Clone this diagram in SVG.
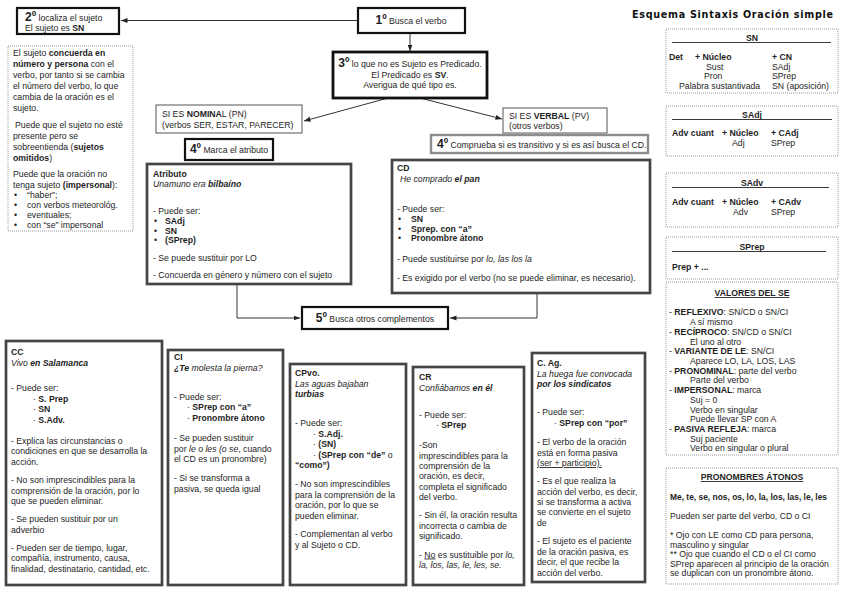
<svg xmlns="http://www.w3.org/2000/svg" width="848" height="600" viewBox="0 0 848 600">
<style>
text{font-family:"Liberation Sans",Arial,sans-serif;font-size:8.7px;fill:#1e1e1e}
.b{font-weight:bold}
.i{font-style:italic}
.bi{font-weight:bold;font-style:italic}
.n{font-size:12px;font-weight:bold}
.u{text-decoration:underline}
.m{text-anchor:middle}
.title{font-family:"DejaVu Sans","Liberation Sans",sans-serif;font-size:9.6px;font-weight:bold;fill:#111}
.thick{fill:#fff;stroke:#111;stroke-width:2.2}
.thin{fill:#fff;stroke:#555;stroke-width:1}
.gray{fill:#fff;stroke:#8c8c8c;stroke-width:2.4}
.card{fill:#fff;stroke:#454545;stroke-width:2.7}
.dot{fill:#fff;stroke:#9a9a9a;stroke-width:1;stroke-dasharray:1 1}
.rule{stroke:#222;stroke-width:0.9}
.con{fill:none;stroke:#333;stroke-width:1}
</style>
<defs>
<marker id="ah" markerUnits="userSpaceOnUse" markerWidth="7" markerHeight="6" refX="6.5" refY="3" orient="auto">
<path d="M0,0.5 L6.5,3 L0,5.5 z" fill="#222"/>
</marker>
</defs>
<rect width="848" height="600" fill="#fff"/>

<g id="connectors">
<path class="con" d="M358,20.5 H121" marker-end="url(#ah)"/>
<path class="con" d="M410,33 V51" marker-end="url(#ah)"/>
<path class="con" d="M388,98 L304,121" marker-end="url(#ah)"/>
<path class="con" d="M420,98 L502,119" marker-end="url(#ah)"/>
<path class="con" d="M237,284 V318 H300" marker-end="url(#ah)"/>
<path class="con" d="M537,293 V318 H450" marker-end="url(#ah)"/>
</g>

<text id="title" class="title" x="632" y="18" textLength="201" lengthAdjust="spacing">Esquema Sintaxis Oración simple</text>

<g id="paso2">
<rect class="thick" x="17" y="8" width="102" height="26"/>
<text x="25" y="21"><tspan class="n">2º</tspan> localiza el sujeto</text>
<text x="25" y="31">El sujeto es <tspan class="b">SN</tspan></text>
</g>

<g id="sujeto">
<rect class="dot" x="8" y="46" width="125" height="185"/>
<text x="13" y="56">El sujeto <tspan class="b">concuerda en</tspan></text>
<text x="13" y="67"><tspan class="b">número y persona</tspan> con el</text>
<text x="13" y="78">verbo, por tanto si se cambia</text>
<text x="13" y="89">el número del verbo, lo que</text>
<text x="13" y="100">cambia de la oración es el</text>
<text x="13" y="110.5">sujeto.</text>
<text x="15" y="128">Puede que el sujeto no esté</text>
<text x="13" y="139">presente pero se</text>
<text x="13" y="150">sobreentienda (<tspan class="b">sujetos</tspan></text>
<text x="13" y="160.5"><tspan class="b">omitidos</tspan>)</text>
<text x="13" y="177">Puede que la oración no</text>
<text x="13" y="188">tenga sujeto <tspan class="b">(impersonal</tspan>):</text>
<text x="14" y="198">•</text><text x="27" y="198">“haber”;</text>
<text x="14" y="208">•</text><text x="27" y="208">con verbos meteorológ.</text>
<text x="14" y="218">•</text><text x="27" y="218">eventuales;</text>
<text x="14" y="228">•</text><text x="27" y="228">con “se” impersonal</text>
</g>

<g id="paso1">
<rect class="thick" x="358" y="8" width="107" height="25"/>
<text class="m" x="411" y="24"><tspan class="n">1º</tspan> Busca el verbo</text>
</g>

<g id="paso3">
<rect class="thick" x="333" y="52" width="154" height="46" style="stroke-width:2.8"/>
<text class="m" x="410" y="67"><tspan class="n">3º</tspan> lo que no es Sujeto es Predicado.</text>
<text class="m" x="410" y="78">El Predicado es <tspan class="b">SV</tspan>.</text>
<text class="m" x="410" y="88">Averigua de qué tipo es.</text>
</g>

<g id="nominal">
<rect class="thin" x="156" y="105" width="146" height="28"/>
<text x="162" y="117">SI ES <tspan class="b">NOMINA</tspan>L (PN)</text>
<text x="162" y="128">(verbos SER, ESTAR, PARECER)</text>
</g>

<g id="verbal">
<rect class="thin" x="503" y="108" width="104" height="25"/>
<text x="509" y="118.5">SI ES <tspan class="b">VERBAL</tspan> (PV)</text>
<text x="509" y="129">(otros verbos)</text>
</g>

<g id="paso4a">
<rect class="thick" x="185" y="139" width="88" height="21"/>
<text class="m" x="229" y="153"><tspan class="n">4º</tspan> Marca el atributo</text>
</g>

<g id="paso4b">
<rect class="gray" x="431" y="135" width="217" height="18"/>
<text x="437" y="148"><tspan class="n">4º</tspan> Comprueba si es transitivo y si es así busca el CD.</text>
</g>

<g id="atributo">
<rect class="card" x="147" y="164" width="204" height="120"/>
<text class="b" x="153" y="177">Atributo</text>
<text x="153" y="187"><tspan class="i">Unamuno era </tspan><tspan class="bi">bilbaíno</tspan></text>
<text x="153" y="214">- Puede ser:</text>
<text x="154" y="224">•</text><text class="b" x="165" y="224">SAdj</text>
<text x="154" y="233.5">•</text><text class="b" x="165" y="233.5">SN</text>
<text x="154" y="243">•</text><text class="b" x="165" y="243">(SPrep)</text>
<text x="153" y="261">- Se puede sustituir por LO</text>
<text x="153" y="278">- Concuerda en género y número con el sujeto</text>
</g>

<g id="cd">
<rect class="card" x="392" y="160" width="258" height="133"/>
<text class="b" x="397" y="171">CD</text>
<text x="400" y="181.5"><tspan class="i">He comprado </tspan><tspan class="bi">el pan</tspan></text>
<text x="397" y="212">- Puede ser:</text>
<text x="398" y="222">•</text><text class="b" x="411" y="222">SN</text>
<text x="398" y="231.5">•</text><text class="b" x="411" y="231.5">Sprep. con “a”</text>
<text x="398" y="241">•</text><text class="b" x="411" y="241">Pronombre átono</text>
<text x="397" y="262">- Puede sustituirse por <tspan class="i">lo, las los la</tspan></text>
<text x="397" y="280.5">- Es exigido por el verbo (no se puede eliminar, es necesario).</text>
</g>

<g id="paso5">
<rect class="thick" x="302" y="307" width="146" height="22"/>
<text class="m" x="375" y="322"><tspan class="n">5º</tspan> Busca otros complementos</text>
</g>

<g id="cc">
<rect class="card" x="6" y="341" width="156" height="244"/>
<text class="b" x="11" y="355">CC</text>
<text x="11" y="366"><tspan class="i">Vivo </tspan><tspan class="bi">en Salamanca</tspan></text>
<text x="11" y="391">-  Puede ser:</text>
<text x="33" y="401.5">· <tspan class="b">S. Prep</tspan></text>
<text x="33" y="412">· <tspan class="b">SN</tspan></text>
<text x="33" y="422.5">· <tspan class="b">S.Adv.</tspan></text>
<text x="11" y="444">- Explica las circunstancias o</text>
<text x="11" y="454">condiciones en que se desarrolla la</text>
<text x="11" y="464.5">acción.</text>
<text x="11" y="483">- No son imprescindibles para la</text>
<text x="11" y="493.5">comprensión de la oración, por lo</text>
<text x="11" y="504">que se pueden eliminar.</text>
<text x="11" y="522">-  Se pueden sustituir por un</text>
<text x="11" y="532.5">adverbio</text>
<text x="11" y="550.5">- Pueden ser de tiempo, lugar,</text>
<text x="11" y="561">compañía, instrumento, causa,</text>
<text x="11" y="571.5">finalidad, destinatario, cantidad, etc.</text>
</g>

<g id="ci">
<rect class="card" x="168" y="350" width="115" height="235"/>
<text class="b" x="174" y="360">CI</text>
<text x="174" y="371"><tspan class="bi">¿Te</tspan><tspan class="i"> molesta la pierna?</tspan></text>
<text x="174" y="400">- Puede ser:</text>
<text x="187" y="410">· <tspan class="b">SPrep con “a”</tspan></text>
<text x="187" y="420.5">· <tspan class="b">Pronombre átono</tspan></text>
<text x="174" y="441">- Se pueden sustituir</text>
<text x="174" y="451.5">por <tspan class="i">le</tspan> o <tspan class="i">les (o se</tspan>, cuando</text>
<text x="174" y="462">el CD es un pronombre)</text>
<text x="174" y="481">- Si se transforma a</text>
<text x="174" y="491.5">pasiva, se queda igual</text>
</g>

<g id="cpvo">
<rect class="card" x="290" y="364" width="116" height="221"/>
<text class="b" x="295" y="376">CPvo.</text>
<text class="i" x="295" y="386.5">Las aguas bajaban</text>
<text class="bi" x="295" y="397">turbias</text>
<text x="295" y="426">- Puede ser:</text>
<text x="313" y="436.5">· <tspan class="b">S.Adj.</tspan></text>
<text x="313" y="447">· <tspan class="b">(SN)</tspan></text>
<text x="313" y="457.5">· <tspan class="b">(SPrep con “de”</tspan> o</text>
<text class="b" x="295" y="468">“como”)</text>
<text x="295" y="487">- No son imprescindibles</text>
<text x="295" y="497.5">para la comprensión de la</text>
<text x="295" y="508">oración, por lo que se</text>
<text x="295" y="518.5">pueden eliminar.</text>
<text x="295" y="537">- Complementan al verbo</text>
<text x="295" y="547.5">y al Sujeto o CD.</text>
</g>

<g id="cr">
<rect class="card" x="413" y="367" width="111" height="218"/>
<text class="b" x="419" y="380">CR</text>
<text x="419" y="390.5"><tspan class="i">Confiábamos </tspan><tspan class="bi">en él</tspan></text>
<text x="419" y="418">- Puede ser:</text>
<text x="436" y="428">· <tspan class="b">SPrep</tspan></text>
<text x="419" y="448">-Son</text>
<text x="419" y="458.5">imprescindibles para la</text>
<text x="419" y="469">comprensión de la</text>
<text x="419" y="479">oración, es decir,</text>
<text x="419" y="489.5">completa el significado</text>
<text x="419" y="500">del verbo.</text>
<text x="419" y="518">- Sin él, la oración resulta</text>
<text x="419" y="528.5">incorrecta o cambia de</text>
<text x="419" y="539">significado.</text>
<text x="419" y="557.5">- <tspan class="u">No</tspan> es sustituible por <tspan class="i">lo,</tspan></text>
<text class="i" x="419" y="568">la, los, las, le, les, se.</text>
</g>

<g id="cag">
<rect class="card" x="532" y="353" width="113" height="229"/>
<text class="b" x="537" y="366">C. Ag.</text>
<text class="i" x="537" y="376.5">La huega fue convocada</text>
<text class="bi" x="537" y="387">por los sindicatos</text>
<text x="537" y="415">- Puede ser:</text>
<text x="554" y="425.5">· <tspan class="b">SPrep con “por”</tspan></text>
<text x="537" y="445">- El verbo de la oración</text>
<text x="537" y="455.5">está en forma pasiva</text>
<text class="u" x="537" y="466">(ser + participio).</text>
<text x="537" y="484">- Es el que realiza la</text>
<text x="537" y="494.5">acción del verbo, es decir,</text>
<text x="537" y="505">si se transforma a activa</text>
<text x="537" y="515">se convierte en el sujeto</text>
<text x="537" y="525.5">de</text>
<text x="537" y="544">- El sujeto es el paciente</text>
<text x="537" y="554.5">de la oración pasiva, es</text>
<text x="537" y="565">decir, el que recibe la</text>
<text x="537" y="575.5">acción del verbo.</text>
</g>

<g id="sn">
<rect class="dot" x="666" y="29" width="172" height="64"/>
<text class="b m" x="752" y="41">SN</text>
<line class="rule" x1="672" y1="42.5" x2="831" y2="42.5"/>
<text class="b" x="669" y="60">Det</text>
<text class="b" x="695" y="60">+ Núcleo</text>
<text class="b" x="772" y="60">+ CN</text>
<text x="706" y="69.5">Sust</text><text x="772" y="69.5">SAdj</text>
<text x="704" y="79">Pron</text><text x="772" y="79">SPrep</text>
<text x="679" y="89">Palabra sustantivada</text><text x="772" y="89">SN (aposición)</text>
</g>

<g id="sadj">
<rect class="dot" x="666" y="106" width="172" height="50"/>
<text class="b m" x="752" y="118">SAdj</text>
<line class="rule" x1="672" y1="119.5" x2="832" y2="119.5"/>
<text class="b" x="672" y="136">Adv cuant</text>
<text class="b" x="722" y="136">+ Núcleo</text>
<text class="b" x="771" y="136">+ CAdj</text>
<text x="732" y="146">Adj</text><text x="771" y="146">SPrep</text>
</g>

<g id="sadv">
<rect class="dot" x="666" y="173" width="172" height="54"/>
<text class="b m" x="752" y="186">SAdv</text>
<line class="rule" x1="672" y1="187.5" x2="829" y2="187.5"/>
<text class="b" x="672" y="205">Adv cuant</text>
<text class="b" x="722" y="205">+ Núcleo</text>
<text class="b" x="771" y="205">+ CAdv</text>
<text x="733" y="215">Adv</text><text x="771" y="215">SPrep</text>
</g>

<g id="sprep">
<rect class="dot" x="666" y="237" width="172" height="42"/>
<text class="b m" x="752" y="250">SPrep</text>
<line class="rule" x1="672" y1="251.5" x2="826" y2="251.5"/>
<text class="b" x="672" y="270">Prep + ...</text>
</g>

<g id="valores">
<rect class="dot" x="666" y="282" width="172" height="173"/>
<text class="b m u" x="752" y="296">VALORES DEL SE</text>
<text x="669" y="315">- <tspan class="b">REFLEXIVO</tspan>: SN/CD o SN/CI</text>
<text x="690" y="325">A sí mismo</text>
<text x="669" y="334.5">- <tspan class="b">RECÍPROCO</tspan>: SN/CD o SN/CI</text>
<text x="690" y="344.5">El uno al otro</text>
<text x="669" y="354">- <tspan class="b">VARIANTE DE LE</tspan>: SN/CI</text>
<text x="690" y="364">Aparece LO, LA, LOS, LAS</text>
<text x="669" y="373.5">- <tspan class="b">PRONOMINAL</tspan>: parte del verbo</text>
<text x="690" y="383">Parte del verbo</text>
<text x="669" y="393">- <tspan class="b">IMPERSONAL</tspan>: marca</text>
<text x="690" y="403">Suj = 0</text>
<text x="690" y="412.5">Verbo en singular</text>
<text x="690" y="422">Puede llevar SP con A</text>
<text x="669" y="432">- <tspan class="b">PASIVA REFLEJA</tspan>: marca</text>
<text x="690" y="441.5">Suj paciente</text>
<text x="690" y="451">Verbo en singular o plural</text>
</g>

<g id="pronombres">
<rect class="dot" x="666" y="468" width="172" height="116"/>
<text class="b m u" x="752" y="480">PRONOMBRES ÁTONOS</text>
<text class="b" x="670" y="499.5" textLength="157" lengthAdjust="spacingAndGlyphs">Me, te, se, nos, os, lo, la, los, las, le, les</text>
<text x="670" y="518.5">Pueden ser parte del verbo, CD o CI</text>
<text x="670" y="538">* Ojo con LE como CD para persona,</text>
<text x="670" y="547.5">masculino y singular</text>
<text x="670" y="557">** Ojo que cuando el CD o el CI como</text>
<text x="670" y="566.5">SPrep aparecen al principio de la oración</text>
<text x="670" y="576">se duplican con un pronombre átono.</text>
</g>
</svg>
